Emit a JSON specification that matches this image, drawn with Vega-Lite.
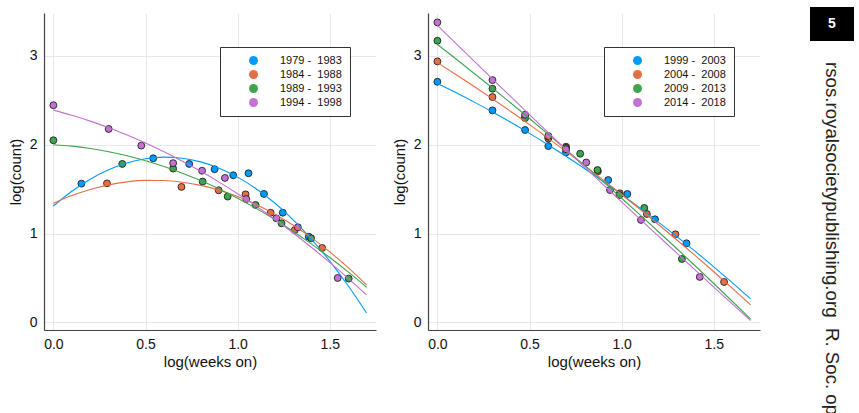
{
  "$schema": "https://vega.github.io/schema/vega-lite/v6.json",
  "background": "white",
  "padding": {"left": 8, "top": 7, "right": 0, "bottom": 0},
  "config": {
    "font": "Liberation Sans",
    "view": {"stroke": null},
    "axis": {"grid": true, "gridColor": "#e8e8e8", "gridWidth": 1, "domainColor": "#444", "domainWidth": 1.2, "ticks": false, "labelFontSize": 14, "titleFontSize": 15, "labelColor": "#111", "titleColor": "#111", "titleFontWeight": "normal", "labelPadding": 7, "titlePadding": 6},
    "axisX": {"titlePadding": 3}
  },
  "datasets": {
    "left_pts": [
      {"x": 0.152, "y": 1.562, "period": "1979 -\u00a0 1983"},
      {"x": 0.542, "y": 1.847, "period": "1979 -\u00a0 1983"},
      {"x": 0.737, "y": 1.784, "period": "1979 -\u00a0 1983"},
      {"x": 0.875, "y": 1.724, "period": "1979 -\u00a0 1983"},
      {"x": 0.976, "y": 1.656, "period": "1979 -\u00a0 1983"},
      {"x": 1.059, "y": 1.679, "period": "1979 -\u00a0 1983"},
      {"x": 1.143, "y": 1.446, "period": "1979 -\u00a0 1983"},
      {"x": 1.245, "y": 1.234, "period": "1979 -\u00a0 1983"},
      {"x": 1.386, "y": 0.964, "period": "1979 -\u00a0 1983"},
      {"x": 0.291, "y": 1.565, "period": "1984 -\u00a0 1988"},
      {"x": 0.695, "y": 1.525, "period": "1984 -\u00a0 1988"},
      {"x": 0.897, "y": 1.487, "period": "1984 -\u00a0 1988"},
      {"x": 1.043, "y": 1.441, "period": "1984 -\u00a0 1988"},
      {"x": 1.179, "y": 1.234, "period": "1984 -\u00a0 1988"},
      {"x": 1.310, "y": 1.039, "period": "1984 -\u00a0 1988"},
      {"x": 1.459, "y": 0.837, "period": "1984 -\u00a0 1988"},
      {"x": 0.0, "y": 2.050, "period": "1989 -\u00a0 1993"},
      {"x": 0.374, "y": 1.784, "period": "1989 -\u00a0 1993"},
      {"x": 0.650, "y": 1.731, "period": "1989 -\u00a0 1993"},
      {"x": 0.810, "y": 1.585, "period": "1989 -\u00a0 1993"},
      {"x": 0.946, "y": 1.416, "period": "1989 -\u00a0 1993"},
      {"x": 1.097, "y": 1.322, "period": "1989 -\u00a0 1993"},
      {"x": 1.238, "y": 1.115, "period": "1989 -\u00a0 1993"},
      {"x": 1.399, "y": 0.946, "period": "1989 -\u00a0 1993"},
      {"x": 1.603, "y": 0.492, "period": "1989 -\u00a0 1993"},
      {"x": 0.0, "y": 2.445, "period": "1994 -\u00a0 1998"},
      {"x": 0.300, "y": 2.178, "period": "1994 -\u00a0 1998"},
      {"x": 0.477, "y": 1.990, "period": "1994 -\u00a0 1998"},
      {"x": 0.650, "y": 1.793, "period": "1994 -\u00a0 1998"},
      {"x": 0.807, "y": 1.707, "period": "1994 -\u00a0 1998"},
      {"x": 0.931, "y": 1.626, "period": "1994 -\u00a0 1998"},
      {"x": 1.047, "y": 1.388, "period": "1994 -\u00a0 1998"},
      {"x": 1.210, "y": 1.171, "period": "1994 -\u00a0 1998"},
      {"x": 1.327, "y": 1.070, "period": "1994 -\u00a0 1998"},
      {"x": 1.543, "y": 0.499, "period": "1994 -\u00a0 1998"}
    ],
    "left_fit": [
      {"x": 0.0, "y": 1.310, "period": "1979 -\u00a0 1983"},
      {"x": 0.1, "y": 1.476, "period": "1979 -\u00a0 1983"},
      {"x": 0.2, "y": 1.612, "period": "1979 -\u00a0 1983"},
      {"x": 0.3, "y": 1.718, "period": "1979 -\u00a0 1983"},
      {"x": 0.4, "y": 1.795, "period": "1979 -\u00a0 1983"},
      {"x": 0.5, "y": 1.842, "period": "1979 -\u00a0 1983"},
      {"x": 0.6, "y": 1.860, "period": "1979 -\u00a0 1983"},
      {"x": 0.7, "y": 1.848, "period": "1979 -\u00a0 1983"},
      {"x": 0.8, "y": 1.807, "period": "1979 -\u00a0 1983"},
      {"x": 0.9, "y": 1.736, "period": "1979 -\u00a0 1983"},
      {"x": 1.0, "y": 1.635, "period": "1979 -\u00a0 1983"},
      {"x": 1.1, "y": 1.505, "period": "1979 -\u00a0 1983"},
      {"x": 1.2, "y": 1.346, "period": "1979 -\u00a0 1983"},
      {"x": 1.3, "y": 1.156, "period": "1979 -\u00a0 1983"},
      {"x": 1.4, "y": 0.938, "period": "1979 -\u00a0 1983"},
      {"x": 1.5, "y": 0.689, "period": "1979 -\u00a0 1983"},
      {"x": 1.6, "y": 0.411, "period": "1979 -\u00a0 1983"},
      {"x": 1.7, "y": 0.104, "period": "1979 -\u00a0 1983"},
      {"x": 0.0, "y": 1.340, "period": "1984 -\u00a0 1988"},
      {"x": 0.1, "y": 1.427, "period": "1984 -\u00a0 1988"},
      {"x": 0.2, "y": 1.496, "period": "1984 -\u00a0 1988"},
      {"x": 0.3, "y": 1.548, "period": "1984 -\u00a0 1988"},
      {"x": 0.4, "y": 1.582, "period": "1984 -\u00a0 1988"},
      {"x": 0.5, "y": 1.598, "period": "1984 -\u00a0 1988"},
      {"x": 0.6, "y": 1.597, "period": "1984 -\u00a0 1988"},
      {"x": 0.7, "y": 1.578, "period": "1984 -\u00a0 1988"},
      {"x": 0.8, "y": 1.542, "period": "1984 -\u00a0 1988"},
      {"x": 0.9, "y": 1.488, "period": "1984 -\u00a0 1988"},
      {"x": 1.0, "y": 1.416, "period": "1984 -\u00a0 1988"},
      {"x": 1.1, "y": 1.327, "period": "1984 -\u00a0 1988"},
      {"x": 1.2, "y": 1.220, "period": "1984 -\u00a0 1988"},
      {"x": 1.3, "y": 1.095, "period": "1984 -\u00a0 1988"},
      {"x": 1.4, "y": 0.953, "period": "1984 -\u00a0 1988"},
      {"x": 1.5, "y": 0.793, "period": "1984 -\u00a0 1988"},
      {"x": 1.6, "y": 0.616, "period": "1984 -\u00a0 1988"},
      {"x": 1.7, "y": 0.421, "period": "1984 -\u00a0 1988"},
      {"x": 0.0, "y": 2.000, "period": "1989 -\u00a0 1993"},
      {"x": 0.1, "y": 1.984, "period": "1989 -\u00a0 1993"},
      {"x": 0.2, "y": 1.957, "period": "1989 -\u00a0 1993"},
      {"x": 0.3, "y": 1.921, "period": "1989 -\u00a0 1993"},
      {"x": 0.4, "y": 1.876, "period": "1989 -\u00a0 1993"},
      {"x": 0.5, "y": 1.820, "period": "1989 -\u00a0 1993"},
      {"x": 0.6, "y": 1.755, "period": "1989 -\u00a0 1993"},
      {"x": 0.7, "y": 1.680, "period": "1989 -\u00a0 1993"},
      {"x": 0.8, "y": 1.596, "period": "1989 -\u00a0 1993"},
      {"x": 0.9, "y": 1.501, "period": "1989 -\u00a0 1993"},
      {"x": 1.0, "y": 1.397, "period": "1989 -\u00a0 1993"},
      {"x": 1.1, "y": 1.283, "period": "1989 -\u00a0 1993"},
      {"x": 1.2, "y": 1.160, "period": "1989 -\u00a0 1993"},
      {"x": 1.3, "y": 1.026, "period": "1989 -\u00a0 1993"},
      {"x": 1.4, "y": 0.883, "period": "1989 -\u00a0 1993"},
      {"x": 1.5, "y": 0.730, "period": "1989 -\u00a0 1993"},
      {"x": 1.6, "y": 0.568, "period": "1989 -\u00a0 1993"},
      {"x": 1.7, "y": 0.395, "period": "1989 -\u00a0 1993"},
      {"x": 0.0, "y": 2.390, "period": "1994 -\u00a0 1998"},
      {"x": 0.1, "y": 2.332, "period": "1994 -\u00a0 1998"},
      {"x": 0.2, "y": 2.266, "period": "1994 -\u00a0 1998"},
      {"x": 0.3, "y": 2.192, "period": "1994 -\u00a0 1998"},
      {"x": 0.4, "y": 2.110, "period": "1994 -\u00a0 1998"},
      {"x": 0.5, "y": 2.020, "period": "1994 -\u00a0 1998"},
      {"x": 0.6, "y": 1.922, "period": "1994 -\u00a0 1998"},
      {"x": 0.7, "y": 1.815, "period": "1994 -\u00a0 1998"},
      {"x": 0.8, "y": 1.701, "period": "1994 -\u00a0 1998"},
      {"x": 0.9, "y": 1.579, "period": "1994 -\u00a0 1998"},
      {"x": 1.0, "y": 1.448, "period": "1994 -\u00a0 1998"},
      {"x": 1.1, "y": 1.309, "period": "1994 -\u00a0 1998"},
      {"x": 1.2, "y": 1.163, "period": "1994 -\u00a0 1998"},
      {"x": 1.3, "y": 1.008, "period": "1994 -\u00a0 1998"},
      {"x": 1.4, "y": 0.845, "period": "1994 -\u00a0 1998"},
      {"x": 1.5, "y": 0.674, "period": "1994 -\u00a0 1998"},
      {"x": 1.6, "y": 0.495, "period": "1994 -\u00a0 1998"},
      {"x": 1.7, "y": 0.308, "period": "1994 -\u00a0 1998"}
    ],
    "right_pts": [
      {"x": 0.0, "y": 2.709, "period": "1999 -\u00a0 2003"},
      {"x": 0.299, "y": 2.387, "period": "1999 -\u00a0 2003"},
      {"x": 0.476, "y": 2.166, "period": "1999 -\u00a0 2003"},
      {"x": 0.602, "y": 1.985, "period": "1999 -\u00a0 2003"},
      {"x": 0.698, "y": 1.914, "period": "1999 -\u00a0 2003"},
      {"x": 0.927, "y": 1.602, "period": "1999 -\u00a0 2003"},
      {"x": 1.031, "y": 1.445, "period": "1999 -\u00a0 2003"},
      {"x": 1.181, "y": 1.160, "period": "1999 -\u00a0 2003"},
      {"x": 1.352, "y": 0.890, "period": "1999 -\u00a0 2003"},
      {"x": 0.0, "y": 2.939, "period": "2004 -\u00a0 2008"},
      {"x": 0.299, "y": 2.537, "period": "2004 -\u00a0 2008"},
      {"x": 0.476, "y": 2.310, "period": "2004 -\u00a0 2008"},
      {"x": 0.602, "y": 2.070, "period": "2004 -\u00a0 2008"},
      {"x": 0.698, "y": 1.978, "period": "2004 -\u00a0 2008"},
      {"x": 0.871, "y": 1.700, "period": "2004 -\u00a0 2008"},
      {"x": 0.990, "y": 1.453, "period": "2004 -\u00a0 2008"},
      {"x": 1.137, "y": 1.220, "period": "2004 -\u00a0 2008"},
      {"x": 1.292, "y": 0.991, "period": "2004 -\u00a0 2008"},
      {"x": 1.556, "y": 0.454, "period": "2004 -\u00a0 2008"},
      {"x": 0.0, "y": 3.171, "period": "2009 -\u00a0 2013"},
      {"x": 0.299, "y": 2.631, "period": "2009 -\u00a0 2013"},
      {"x": 0.476, "y": 2.300, "period": "2009 -\u00a0 2013"},
      {"x": 0.602, "y": 2.090, "period": "2009 -\u00a0 2013"},
      {"x": 0.698, "y": 1.965, "period": "2009 -\u00a0 2013"},
      {"x": 0.775, "y": 1.899, "period": "2009 -\u00a0 2013"},
      {"x": 0.869, "y": 1.715, "period": "2009 -\u00a0 2013"},
      {"x": 0.988, "y": 1.433, "period": "2009 -\u00a0 2013"},
      {"x": 1.123, "y": 1.288, "period": "2009 -\u00a0 2013"},
      {"x": 1.327, "y": 0.713, "period": "2009 -\u00a0 2013"},
      {"x": 0.0, "y": 3.378, "period": "2014 -\u00a0 2018"},
      {"x": 0.299, "y": 2.728, "period": "2014 -\u00a0 2018"},
      {"x": 0.476, "y": 2.338, "period": "2014 -\u00a0 2018"},
      {"x": 0.602, "y": 2.098, "period": "2014 -\u00a0 2018"},
      {"x": 0.698, "y": 1.950, "period": "2014 -\u00a0 2018"},
      {"x": 0.808, "y": 1.800, "period": "2014 -\u00a0 2018"},
      {"x": 0.937, "y": 1.490, "period": "2014 -\u00a0 2018"},
      {"x": 1.105, "y": 1.153, "period": "2014 -\u00a0 2018"},
      {"x": 1.424, "y": 0.511, "period": "2014 -\u00a0 2018"}
    ],
    "right_fit": [
      {"x": 0.0, "y": 2.690, "period": "1999 -\u00a0 2003"},
      {"x": 0.1, "y": 2.588, "period": "1999 -\u00a0 2003"},
      {"x": 0.2, "y": 2.480, "period": "1999 -\u00a0 2003"},
      {"x": 0.3, "y": 2.368, "period": "1999 -\u00a0 2003"},
      {"x": 0.4, "y": 2.250, "period": "1999 -\u00a0 2003"},
      {"x": 0.5, "y": 2.128, "period": "1999 -\u00a0 2003"},
      {"x": 0.6, "y": 2.000, "period": "1999 -\u00a0 2003"},
      {"x": 0.7, "y": 1.867, "period": "1999 -\u00a0 2003"},
      {"x": 0.8, "y": 1.730, "period": "1999 -\u00a0 2003"},
      {"x": 0.9, "y": 1.587, "period": "1999 -\u00a0 2003"},
      {"x": 1.0, "y": 1.439, "period": "1999 -\u00a0 2003"},
      {"x": 1.1, "y": 1.286, "period": "1999 -\u00a0 2003"},
      {"x": 1.2, "y": 1.128, "period": "1999 -\u00a0 2003"},
      {"x": 1.3, "y": 0.965, "period": "1999 -\u00a0 2003"},
      {"x": 1.4, "y": 0.798, "period": "1999 -\u00a0 2003"},
      {"x": 1.5, "y": 0.625, "period": "1999 -\u00a0 2003"},
      {"x": 1.6, "y": 0.447, "period": "1999 -\u00a0 2003"},
      {"x": 1.7, "y": 0.263, "period": "1999 -\u00a0 2003"},
      {"x": 0.0, "y": 2.925, "period": "2004 -\u00a0 2008"},
      {"x": 0.1, "y": 2.792, "period": "2004 -\u00a0 2008"},
      {"x": 0.2, "y": 2.656, "period": "2004 -\u00a0 2008"},
      {"x": 0.3, "y": 2.516, "period": "2004 -\u00a0 2008"},
      {"x": 0.4, "y": 2.372, "period": "2004 -\u00a0 2008"},
      {"x": 0.5, "y": 2.226, "period": "2004 -\u00a0 2008"},
      {"x": 0.6, "y": 2.075, "period": "2004 -\u00a0 2008"},
      {"x": 0.7, "y": 1.922, "period": "2004 -\u00a0 2008"},
      {"x": 0.8, "y": 1.765, "period": "2004 -\u00a0 2008"},
      {"x": 0.9, "y": 1.604, "period": "2004 -\u00a0 2008"},
      {"x": 1.0, "y": 1.440, "period": "2004 -\u00a0 2008"},
      {"x": 1.1, "y": 1.273, "period": "2004 -\u00a0 2008"},
      {"x": 1.2, "y": 1.102, "period": "2004 -\u00a0 2008"},
      {"x": 1.3, "y": 0.927, "period": "2004 -\u00a0 2008"},
      {"x": 1.4, "y": 0.750, "period": "2004 -\u00a0 2008"},
      {"x": 1.5, "y": 0.569, "period": "2004 -\u00a0 2008"},
      {"x": 1.6, "y": 0.384, "period": "2004 -\u00a0 2008"},
      {"x": 1.7, "y": 0.196, "period": "2004 -\u00a0 2008"},
      {"x": 0.0, "y": 3.130, "period": "2009 -\u00a0 2013"},
      {"x": 0.1, "y": 2.968, "period": "2009 -\u00a0 2013"},
      {"x": 0.2, "y": 2.803, "period": "2009 -\u00a0 2013"},
      {"x": 0.3, "y": 2.636, "period": "2009 -\u00a0 2013"},
      {"x": 0.4, "y": 2.467, "period": "2009 -\u00a0 2013"},
      {"x": 0.5, "y": 2.295, "period": "2009 -\u00a0 2013"},
      {"x": 0.6, "y": 2.120, "period": "2009 -\u00a0 2013"},
      {"x": 0.7, "y": 1.943, "period": "2009 -\u00a0 2013"},
      {"x": 0.8, "y": 1.764, "period": "2009 -\u00a0 2013"},
      {"x": 0.9, "y": 1.582, "period": "2009 -\u00a0 2013"},
      {"x": 1.0, "y": 1.397, "period": "2009 -\u00a0 2013"},
      {"x": 1.1, "y": 1.210, "period": "2009 -\u00a0 2013"},
      {"x": 1.2, "y": 1.020, "period": "2009 -\u00a0 2013"},
      {"x": 1.3, "y": 0.828, "period": "2009 -\u00a0 2013"},
      {"x": 1.4, "y": 0.634, "period": "2009 -\u00a0 2013"},
      {"x": 1.5, "y": 0.437, "period": "2009 -\u00a0 2013"},
      {"x": 1.6, "y": 0.237, "period": "2009 -\u00a0 2013"},
      {"x": 1.7, "y": 0.035, "period": "2009 -\u00a0 2013"},
      {"x": 0.0, "y": 3.345, "period": "2014 -\u00a0 2018"},
      {"x": 0.1, "y": 3.142, "period": "2014 -\u00a0 2018"},
      {"x": 0.2, "y": 2.940, "period": "2014 -\u00a0 2018"},
      {"x": 0.3, "y": 2.738, "period": "2014 -\u00a0 2018"},
      {"x": 0.4, "y": 2.538, "period": "2014 -\u00a0 2018"},
      {"x": 0.5, "y": 2.339, "period": "2014 -\u00a0 2018"},
      {"x": 0.6, "y": 2.140, "period": "2014 -\u00a0 2018"},
      {"x": 0.7, "y": 1.943, "period": "2014 -\u00a0 2018"},
      {"x": 0.8, "y": 1.746, "period": "2014 -\u00a0 2018"},
      {"x": 0.9, "y": 1.551, "period": "2014 -\u00a0 2018"},
      {"x": 1.0, "y": 1.356, "period": "2014 -\u00a0 2018"},
      {"x": 1.1, "y": 1.162, "period": "2014 -\u00a0 2018"},
      {"x": 1.2, "y": 0.970, "period": "2014 -\u00a0 2018"},
      {"x": 1.3, "y": 0.778, "period": "2014 -\u00a0 2018"},
      {"x": 1.4, "y": 0.587, "period": "2014 -\u00a0 2018"},
      {"x": 1.5, "y": 0.397, "period": "2014 -\u00a0 2018"},
      {"x": 1.6, "y": 0.208, "period": "2014 -\u00a0 2018"},
      {"x": 1.7, "y": 0.020, "period": "2014 -\u00a0 2018"}
    ]
  },
  "resolve": {"scale": {"fill": "independent", "stroke": "independent"}, "legend": {"fill": "independent", "stroke": "independent"}},
  "spacing": 50,
  "hconcat": [
    {
      "spacing": 5,
      "resolve": {"scale": {"fill": "independent", "stroke": "independent"}, "legend": {"fill": "independent", "stroke": "independent"}},
      "vconcat": [
        {
          "width": 1,
          "height": 1,
          "data": {"values": []},
          "mark": "point",
          "encoding": {}
        },
        {
          "spacing": 16,
          "resolve": {"scale": {"fill": "independent", "stroke": "independent"}, "legend": {"fill": "independent", "stroke": "independent"}},
          "hconcat": [
            {
              "width": 332,
              "height": 317,
              "layer": [
                {
                  "data": {"name": "left_pts"},
                  "mark": {"type": "circle", "size": 48, "opacity": 1, "stroke": "#111", "strokeWidth": 0.8},
                  "encoding": {
                    "x": {"field": "x", "type": "quantitative", "scale": {"domain": [-0.051, 1.751], "nice": false, "zero": false}, "axis": {"values": [0, 0.5, 1, 1.5], "format": ".1f", "title": "log(weeks on)"}},
                    "y": {"field": "y", "type": "quantitative", "scale": {"domain": [-0.087, 3.484], "nice": false, "zero": false}, "axis": {"values": [0, 1, 2, 3], "format": "d", "title": "log(count)"}},
                    "fill": {"field": "period", "type": "nominal", "scale": {"domain": ["1979 -\u00a0 1983", "1984 -\u00a0 1988", "1989 -\u00a0 1993", "1994 -\u00a0 1998"], "range": ["#009AFA", "#E36F47", "#3EA44E", "#C371D2"]},
                      "legend": {"orient": "none", "legendX": 176, "legendY": 34, "title": null, "padding": 8, "strokeColor": "#333", "fillColor": "white", "symbolOffset": 20, "labelOffset": 21, "symbolSize": 80, "symbolStrokeWidth": 0, "symbolType": "circle", "labelFontSize": 11, "labelColor": "#111", "rowPadding": 2}}
                  }
                },
                {
                  "data": {"name": "left_fit"},
                  "mark": {"type": "line", "strokeWidth": 1.1, "interpolate": "monotone"},
                  "encoding": {
                    "x": {"field": "x", "type": "quantitative"},
                    "y": {"field": "y", "type": "quantitative"},
                    "stroke": {"field": "period", "type": "nominal", "scale": {"domain": ["1979 -\u00a0 1983", "1984 -\u00a0 1988", "1989 -\u00a0 1993", "1994 -\u00a0 1998"], "range": ["#009AFA", "#E36F47", "#3EA44E", "#C371D2"]}, "legend": null}
                  }
                }
              ]
            },
            {
              "width": 332,
              "height": 317,
              "layer": [
                {
                  "data": {"name": "right_pts"},
                  "mark": {"type": "circle", "size": 48, "opacity": 1, "stroke": "#111", "strokeWidth": 0.8},
                  "encoding": {
                    "x": {"field": "x", "type": "quantitative", "scale": {"domain": [-0.051, 1.751], "nice": false, "zero": false}, "axis": {"values": [0, 0.5, 1, 1.5], "format": ".1f", "title": "log(weeks on)"}},
                    "y": {"field": "y", "type": "quantitative", "scale": {"domain": [-0.087, 3.484], "nice": false, "zero": false}, "axis": {"values": [0, 1, 2, 3], "format": "d", "title": "log(count)"}},
                    "fill": {"field": "period", "type": "nominal", "scale": {"domain": ["1999 -\u00a0 2003", "2004 -\u00a0 2008", "2009 -\u00a0 2013", "2014 -\u00a0 2018"], "range": ["#009AFA", "#E36F47", "#3EA44E", "#C371D2"]},
                      "legend": {"orient": "none", "legendX": 176, "legendY": 34, "title": null, "padding": 8, "strokeColor": "#333", "fillColor": "white", "symbolOffset": 20, "labelOffset": 21, "symbolSize": 80, "symbolStrokeWidth": 0, "symbolType": "circle", "labelFontSize": 11, "labelColor": "#111", "rowPadding": 2}}
                  }
                },
                {
                  "data": {"name": "right_fit"},
                  "mark": {"type": "line", "strokeWidth": 1.1, "interpolate": "monotone"},
                  "encoding": {
                    "x": {"field": "x", "type": "quantitative"},
                    "y": {"field": "y", "type": "quantitative"},
                    "stroke": {"field": "period", "type": "nominal", "scale": {"domain": ["1999 -\u00a0 2003", "2004 -\u00a0 2008", "2009 -\u00a0 2013", "2014 -\u00a0 2018"], "range": ["#009AFA", "#E36F47", "#3EA44E", "#C371D2"]}, "legend": null}
                  }
                }
              ]
            }
          ]
        }
      ]
    },
    {
      "spacing": 0,
      "vconcat": [
        {
          "width": 44,
          "height": 34,
          "data": {"values": [{"label": "5"}]},
          "layer": [
            {
              "mark": {"type": "rect", "color": "#000"},
              "encoding": {}
            },
            {
              "mark": {"type": "text", "color": "white", "fontSize": 14, "fontWeight": "bold", "align": "center", "baseline": "middle"},
              "encoding": {"text": {"field": "label", "type": "nominal"}}
            }
          ]
        },
        {
          "width": 44,
          "height": 42,
          "data": {"values": [{"label": "rsos.royalsocietypublishing.org\u00a0 R. Soc. open sci. 7: 191866"}]},
          "mark": {"type": "text", "angle": 90, "align": "left", "baseline": "middle", "fontSize": 18.7, "color": "#222"},
          "encoding": {"text": {"field": "label", "type": "nominal"}}
        }
      ]
    }
  ]
}
